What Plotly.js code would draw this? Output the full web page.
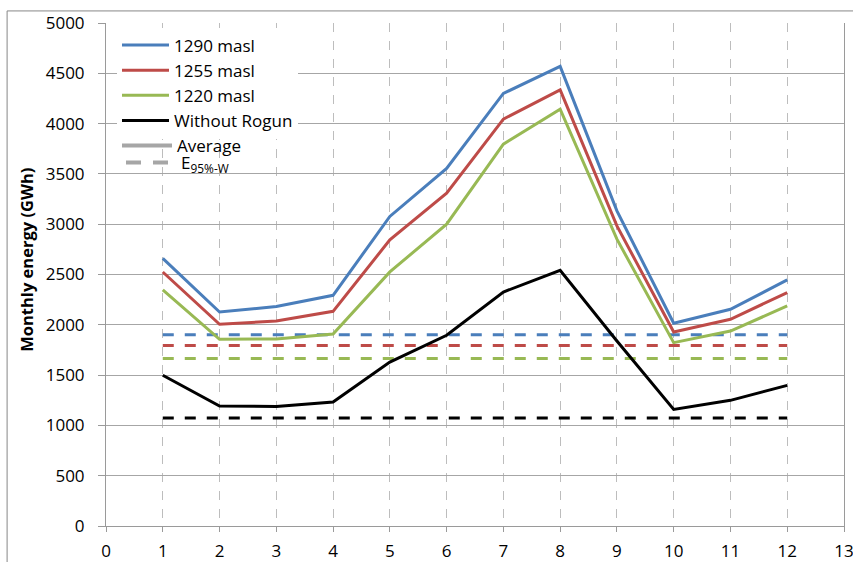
<!DOCTYPE html>
<html>
<head>
<meta charset="utf-8">
<script src="https://cdn.plot.ly/plotly-3.0.1.min.js"></script>
<style>
html,body{margin:0;padding:0;background:#fff;}
#chart{width:853px;height:562px;}
</style>
</head>
<body>
<div id="chart"></div>
<script>
// Months
var months = [1, 2, 3, 4, 5, 6, 7, 8, 9, 10, 11, 12];
// Monthly energy (GWh), average
var e1290 = [2660, 2127, 2181, 2293, 3077, 3554, 4300, 4569, 3132, 2015, 2154, 2446];
var e1255 = [2525, 2005, 2038, 2134, 2844, 3308, 4045, 4336, 2983, 1929, 2055, 2320];
var e1220 = [2346, 1856, 1859, 1908, 2526, 3000, 3796, 4144, 2851, 1823, 1938, 2187];
var eWithout = [1498, 1192, 1189, 1232, 1630, 1896, 2326, 2542, 1839, 1159, 1249, 1398];
// E95%-W (GWh)
var e95_1290 = 1902;
var e95_1255 = 1793;
var e95_1220 = 1664;
var e95_without = 1073;

var seriesNames = ['1290 masl', '1255 masl', '1220 masl', 'Without Rogun'];
var legendExtra = ['Average', 'E<sub>95%-W</sub>'];
var xTicks = [0,1,2,3,4,5,6,7,8,9,10,11,12,13];
var yTicks = [0,500,1000,1500,2000,2500,3000,3500,4000,4500,5000];
var yTitle = 'Monthly energy (GWh)';

var colors = ['#4a7ebb', '#be4b48', '#98b954', '#000000'];
var avgSeries = [e1290, e1255, e1220, eWithout];
var e95Series = [e95_1290, e95_1255, e95_1220, e95_without];
var xEnds = [months[0], months[months.length - 1]];

var traces = [];
for (var i = 0; i < 4; i++) {
  traces.push({
    x: xEnds, y: [e95Series[i], e95Series[i]],
    type: 'scatter', mode: 'lines', showlegend: false, hoverinfo: 'skip',
    line: {color: colors[i], width: 3, dash: '11px,11px'}
  });
}
for (var j = 0; j < 4; j++) {
  traces.push({
    x: months, y: avgSeries[j], name: seriesNames[j],
    type: 'scatter', mode: 'lines',
    line: {color: colors[j], width: 3}
  });
}
traces.push({x: [null], y: [null], name: legendExtra[0], type: 'scatter', mode: 'lines',
  legend: 'legend2', line: {color: '#a6a6a6', width: 4}});
traces.push({x: [null], y: [null], name: legendExtra[1], type: 'scatter', mode: 'lines',
  legend: 'legend3', line: {color: '#a6a6a6', width: 4, dash: '15px,12px'}});

var font = 'Open Sans, Liberation Sans, sans-serif';
var layout = {
  width: 853, height: 562,
  margin: {l: 106, r: 9, t: 23, b: 35.5},
  paper_bgcolor: '#ffffff', plot_bgcolor: '#ffffff',
  font: {family: font, size: 16, color: '#000'},
  xaxis: {
    range: [0, 13], tickvals: xTicks, ticktext: xTicks.map(String),
    showgrid: true, gridcolor: '#bdbdbd', gridwidth: 1, griddash: 'dash',
    showline: true, linecolor: '#9a9a9a', linewidth: 1,
    ticks: 'outside', ticklen: 5, tickcolor: '#9a9a9a',
    ticklabelstandoff: 5, ticklabeloverflow: 'allow', zeroline: false,
    tickfont: {family: font, size: 17, color: '#000'}
  },
  yaxis: {
    range: [0, 5000], tickvals: yTicks, ticktext: yTicks.map(String),
    showgrid: true, gridcolor: '#a6a6a6', gridwidth: 1,
    showline: true, mirror: true, linecolor: '#9a9a9a', linewidth: 1,
    ticks: 'outside', ticklen: 7, tickcolor: '#9a9a9a',
    ticklabelstandoff: 10, zeroline: false,
    tickfont: {family: font, size: 17, color: '#000'}
  },
  annotations: [{
    text: '<b>' + yTitle + '</b>', textangle: -90,
    xref: 'paper', yref: 'paper', x: (27 - 106) / 738, y: (526.5 - 260) / 503.5,
    xanchor: 'center', yanchor: 'middle', showarrow: false,
    font: {family: font, size: 16.5, color: '#000'}
  }],
  legend: {
    x: 0.0149, y: 0.991, xanchor: 'left', yanchor: 'top',
    bgcolor: '#ffffff', borderwidth: 0, itemwidth: 47,
    font: {family: font, size: 17, color: '#000'},
    tracegroupgap: 0
  },
  legend2: {
    x: 0.0149, y: (526.5 - 128) / 503.5, xanchor: 'left', yanchor: 'top',
    bgcolor: 'rgba(0,0,0,0)', borderwidth: 0, itemwidth: 50,
    font: {family: font, size: 17, color: '#000'}
  },
  legend3: {
    x: (121 - 106) / 738, y: (526.5 - 145) / 503.5, xanchor: 'left', yanchor: 'top',
    bgcolor: 'rgba(0,0,0,0)', borderwidth: 0, itemwidth: 50,
    font: {family: font, size: 17, color: '#000'}
  },
  shapes: [
    {type: 'line', xref: 'paper', yref: 'paper', x0: -0.134, x1: -0.134, y0: 1.024, y1: -0.2,
     line: {color: '#878787', width: 1}},
    {type: 'line', xref: 'paper', yref: 'paper', x0: -0.134, x1: 1.02, y0: 1.024, y1: 1.024,
     line: {color: '#878787', width: 1}}
  ],
  showlegend: true
};

Plotly.newPlot('chart', traces, layout, {displayModeBar: false, staticPlot: true});
</script>
</body>
</html>
